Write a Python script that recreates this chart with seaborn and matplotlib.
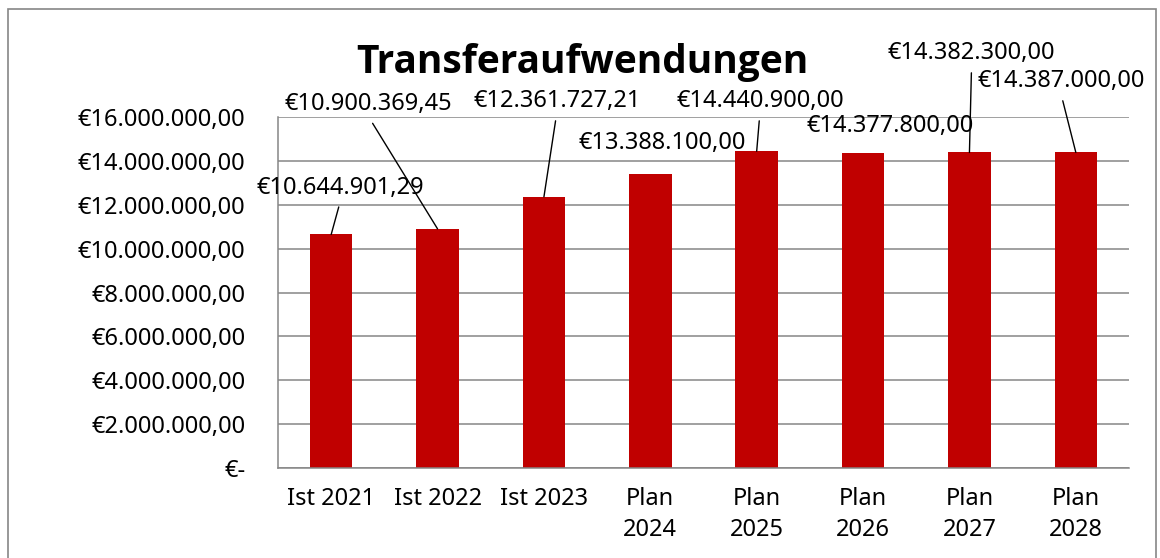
import matplotlib
matplotlib.use("Agg")
import matplotlib.pyplot as plt
import matplotlib.ticker as mticker
from matplotlib.patches import Rectangle
import numpy as np
import seaborn as sns

# Daten
kategorien = ["Ist 2021", "Ist 2022", "Ist 2023", "Plan\n2024", "Plan\n2025",
              "Plan\n2026", "Plan\n2027", "Plan\n2028"]
werte = [10644901.29, 10900369.45, 12361727.21, 13388100.00, 14440900.00,
         14377800.00, 14382300.00, 14387000.00]
# Position der Datenbeschriftungen (x-Versatz zur Balkenmitte, y in Euro)
label_dx = [0.09, -0.65, 0.12, 0.11, 0.03, 0.25, 0.02, -0.14]
label_y = [12.78e6, 16.57e6, 16.71e6, 14.83e6, 16.71e6, 15.57e6, 18.90e6, 17.62e6]
mit_linie = [True, True, True, False, True, False, True, True]

ROT = "#C00000"
GRAU = "#868686"


def euro_format(v, pos=None):
    if abs(v) < 0.005:
        return "€-"
    s = f"{v:,.2f}"
    s = s.replace(",", "X").replace(".", ",").replace("X", ".")
    return "€" + s


sns.set_style("white")
plt.rcParams["font.family"] = ["Noto Sans", "DejaVu Sans"]
plt.rcParams["text.color"] = "black"

fig = plt.figure(figsize=(11.6, 5.58), dpi=100)
ax = fig.add_axes([278 / 1160, 1 - 468 / 558, (1129 - 278) / 1160, (468 - 117) / 558])

sns.barplot(x=list(range(len(werte))), y=werte, color=ROT, saturation=1,
            width=0.4, ax=ax, edgecolor="none")

ax.set_xlim(-0.5, len(werte) - 0.5)
ax.set_ylim(0, 16e6)
ax.yaxis.set_major_locator(mticker.MultipleLocator(2e6))
ax.yaxis.set_major_formatter(mticker.FuncFormatter(euro_format))
ax.grid(axis="y", color=GRAU, linewidth=1.1)
ax.set_axisbelow(True)

# Achsen
for side in ["top", "right"]:
    ax.spines[side].set_visible(False)
for side in ["left", "bottom"]:
    ax.spines[side].set_color(GRAU)
    ax.spines[side].set_linewidth(1.1)

ax.set_xticks(np.arange(-0.5, len(werte)), labels=[])
ax.set_xticks(range(len(werte)), labels=kategorien, minor=True)
ax.tick_params(axis="x", which="major", length=6, width=1.1, color=GRAU)
ax.tick_params(axis="x", which="minor", length=0, pad=14, labelsize=17,
               labelcolor="black")
ax.tick_params(axis="y", length=6.5, width=1.1, color=GRAU, pad=17, labelsize=17,
               labelcolor="black")
for t in ax.get_xticklabels(minor=True):
    t.set_linespacing(1.35)
ax.set_xlabel("")
ax.set_ylabel("")

# Datenbeschriftungen
for i, (v, dx, ly, linie) in enumerate(zip(werte, label_dx, label_y, mit_linie)):
    props = None
    if linie:
        props = dict(arrowstyle="-", color="black", lw=1.0, relpos=(0.5, 0.0),
                     shrinkA=3, shrinkB=0)
    ax.annotate(euro_format(v), xy=(i, v), xytext=(i + dx, ly),
                ha="center", va="center", fontsize=17, annotation_clip=False,
                arrowprops=props)

fig.text(582 / 1160, 1 - 62 / 558, "Transferaufwendungen", ha="center",
         va="center", fontsize=28, fontweight="bold",
         family=["Open Sans", "Lato", "DejaVu Sans"])

# Rahmen des Diagramms
fig.patches.append(Rectangle((8 / 1160, -0.1), (1156 - 8) / 1160, 1.1 - 9 / 558,
                             transform=fig.transFigure, fill=False,
                             edgecolor=GRAU, linewidth=1.2))

fig.savefig("out.png", dpi=100)
